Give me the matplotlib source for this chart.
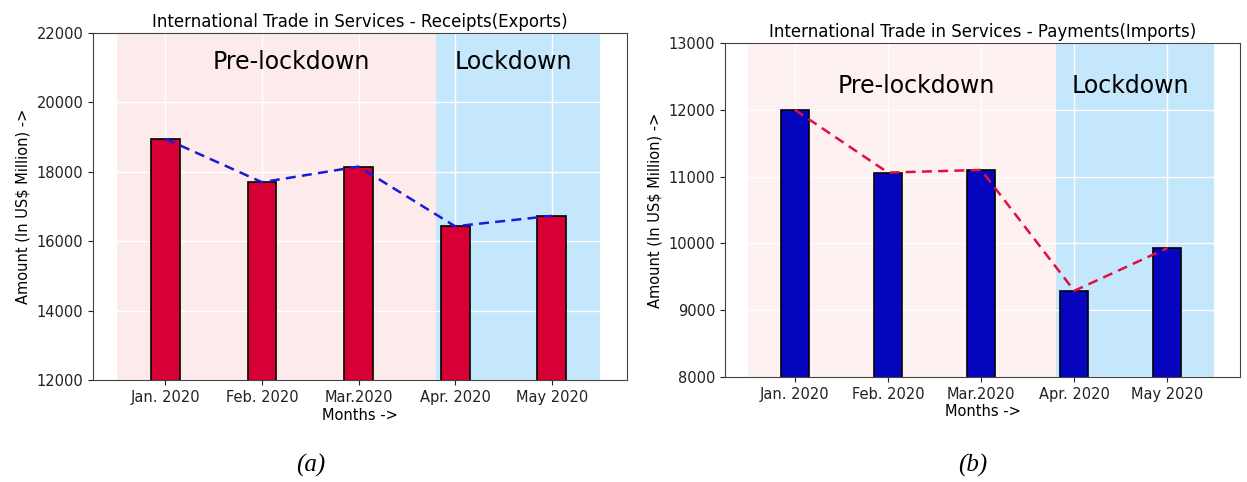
import matplotlib.pyplot as plt
import numpy as np

months = ["Jan. 2020", "Feb. 2020", "Mar.2020", "Apr. 2020", "May 2020"]
exports = [18950, 17700, 18150, 16430, 16730]
imports = [12000, 11060, 11100, 9290, 9930]

fig = plt.figure(figsize=(12.47, 4.82), dpi=100)
ax1 = fig.add_axes([93/1247, 102/482, 534/1247, 347/482])
ax2 = fig.add_axes([725/1247, 105/482, 515/1247, 334/482])

def panel(ax, vals, barcolor, linecolor, pink, title, ylim, yticks, txt_y, caption, cap_x):
    x = np.arange(len(months))
    ax.axvspan(-0.5, 2.8, color=pink, lw=0, zorder=0)
    ax.axvspan(2.8, 4.5, color='#c4e7fb', lw=0, zorder=0)
    ax.grid(True, color='white', lw=1, zorder=1)
    ax.set_axisbelow(True)
    ax.bar(x, vals, width=0.3, color=barcolor, edgecolor='black', lw=1.2, zorder=3)
    ax.plot(x, vals, ls='--', color=linecolor, lw=1.8, dashes=(4, 2.5), zorder=4)
    ax.set_xlim(-0.75, 4.78)
    ax.set_ylim(*ylim)
    ax.set_yticks(yticks)
    ax.set_xticks(x)
    ax.set_xticklabels(months)
    ax.tick_params(labelsize=10.5, colors='#222222')
    for s in ax.spines.values():
        s.set_color('#444444')
        s.set_zorder(5)
    ax.set_title(title, fontsize=12, pad=4)
    ax.set_xlabel("Months ->", fontsize=10.5, labelpad=2)
    ax.set_ylabel("Amount (In US$ Million) ->", fontsize=10.5)
    ax.text(1.3, txt_y, "Pre-lockdown", fontsize=17, ha='center', va='center', zorder=6)
    ax.text(3.6, txt_y, "Lockdown", fontsize=17, ha='center', va='center', zorder=6)
    fig.text(cap_x, (482-465)/482, caption, fontsize=18, style='italic',
             family='Liberation Serif', ha='center', va='center')

panel(ax1, exports, '#d70035', '#1a1adb', '#fdeaea',
      "International Trade in Services - Receipts(Exports)",
      (12000, 22000), [12000, 14000, 16000, 18000, 20000, 22000], 21150, "(a)", 311/1247)
panel(ax2, imports, '#0505c0', '#e0103c', '#fef1f1',
      "International Trade in Services - Payments(Imports)",
      (8000, 13000), [8000, 9000, 10000, 11000, 12000, 13000], 12360, "(b)", 973/1247)

fig.savefig("out.png", dpi=100)
